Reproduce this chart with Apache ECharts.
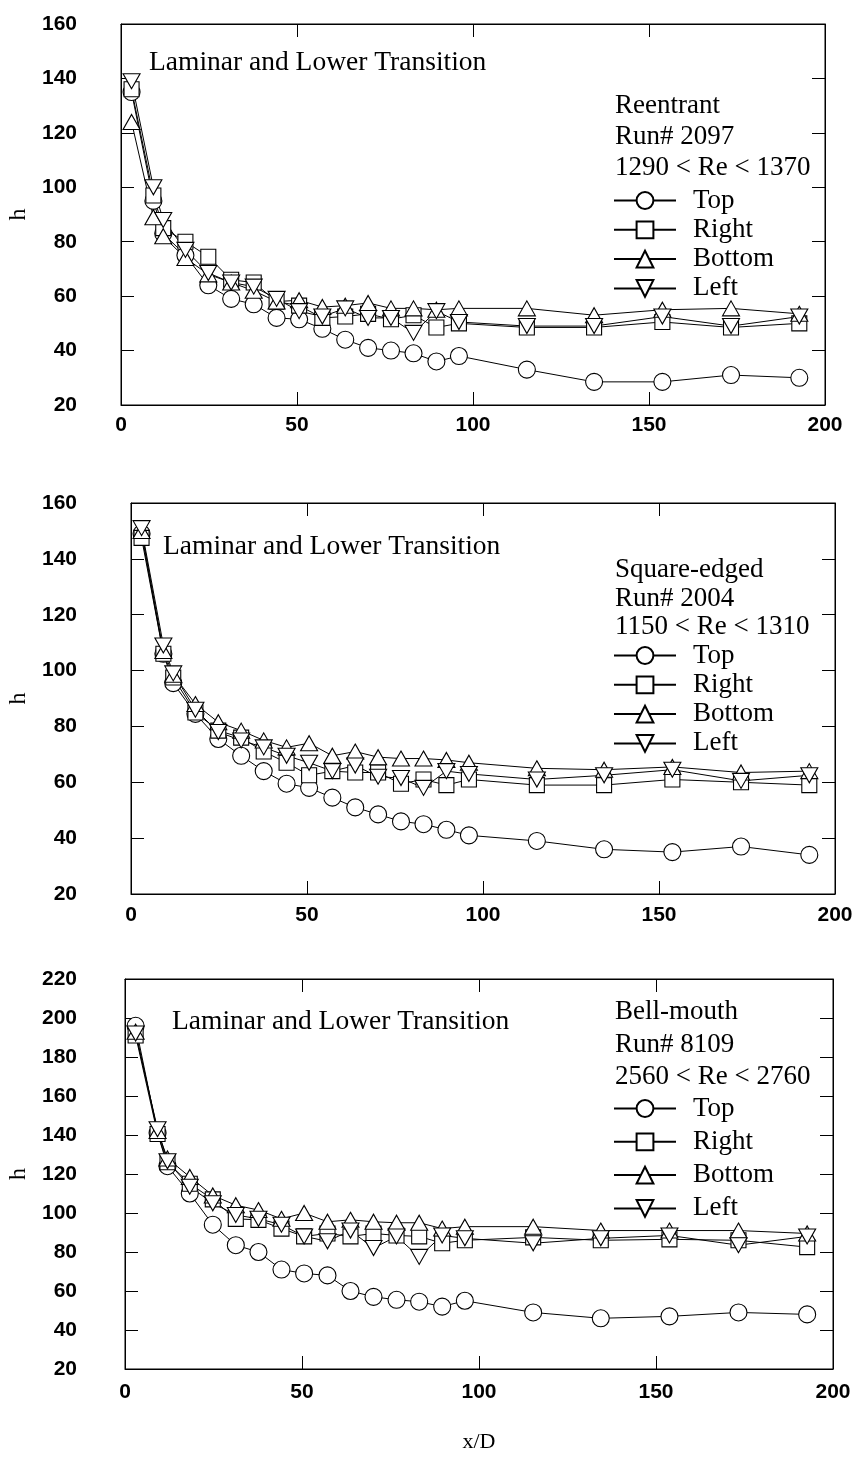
<!DOCTYPE html>
<html>
<head>
<meta charset="utf-8">
<title>Heat transfer coefficient h along the tube, three inlet configurations</title>
<script src="https://cdn.jsdelivr.net/npm/echarts@6/dist/echarts.min.js"></script>
<style>
  html, body { margin: 0; padding: 0; background: #fff; }
  #chart { width: 857px; height: 1469px; }
</style>
</head>
<body>
<div id="chart"></div>
<script>
// Axial stations x/D shared by all three runs
const xD = [3, 9.2, 12, 18.3, 24.8, 31.3, 37.7, 44.2, 50.6, 57.2, 63.7, 70.2, 76.7, 83.1, 89.6, 96, 115.3, 134.4, 153.8, 173.3, 192.7];

// Reentrant inlet, Run# 2097
const reTop    = [135, 95, 83, 75, 64, 59, 57, 52, 51.5, 48, 44, 41, 40, 39, 36, 38, 33, 28.5, 28.5, 31, 30];
const reRight  = [136, 97, 85, 80, 74.5, 66, 65, 58, 56.5, 52, 52.5, 53.5, 51.5, 53, 48.5, 50, 48.5, 48.5, 50.5, 48.5, 50];
const reBottom = [124, 89, 82, 74, 68, 65, 62, 58, 58.5, 56, 56.5, 57.5, 55.5, 55.5, 55, 55.5, 55.5, 53, 55, 55.5, 53.5];
const reLeft   = [139, 100, 88, 77, 68.5, 65, 63.5, 59, 54.5, 52.5, 55.5, 52, 52, 46.5, 54.5, 50.5, 49, 49, 52.5, 49, 52.5];

// Square-edged inlet, Run# 2004
const sqTop    = [149, 106, 95.5, 84.5, 75.5, 69.5, 64, 59.5, 58, 54.5, 51, 48.5, 46, 45, 43, 41, 39, 36, 35, 37, 34];
const sqRight  = [147.5, 106, 97.5, 85, 78.5, 76, 71, 67, 62.5, 64, 63.5, 63.5, 59.5, 61, 59, 61, 59, 59, 61, 60, 59];
const sqBottom = [150, 107, 98.5, 88, 81.5, 78.5, 75, 72.5, 74, 69.5, 71, 69, 68.5, 68.5, 68, 67, 65, 64.5, 65.5, 63.5, 64];
const sqLeft   = [151, 109, 99, 86, 78, 75, 72.5, 69.5, 67, 64, 66, 62, 61.5, 58, 64, 63, 61, 62.5, 64.5, 60.5, 62.5];

// Bell-mouth inlet, Run# 8109
const bmTop    = [196, 141, 124, 110, 94, 83.5, 80, 71, 69, 68, 60, 57, 55.5, 54.5, 52, 55, 49, 46, 47, 49, 48];
const bmRight  = [191, 140.5, 126, 115, 107, 97, 96.5, 92, 88, 89.5, 88, 89.5, 88.5, 88, 84.5, 86, 87.5, 86, 86.5, 86, 82.5];
const bmBottom = [193, 142, 128, 118.5, 109, 104, 101.5, 97, 100, 95.5, 96.5, 95.5, 95, 95, 92, 93, 93, 91, 91, 91, 89.5];
const bmLeft   = [192, 143, 126.5, 113.5, 105, 99, 97, 94, 88, 85.5, 91, 82, 88, 77.5, 88.5, 87, 84.5, 87, 88.5, 83.5, 88];

// Tick settings
const xTicks = { min: 0, max: 200, interval: 50 };
const yTicks = [
  { min: 20, max: 160, interval: 20 },
  { min: 20, max: 160, interval: 20 },
  { min: 20, max: 220, interval: 20 }
];

const sideNames = ['Top', 'Right', 'Bottom', 'Left'];
const panels = [
  { caption: 'Laminar and Lower Transition', head: ['Reentrant', 'Run# 2097', '1290 < Re < 1370'], series: [reTop, reRight, reBottom, reLeft] },
  { caption: 'Laminar and Lower Transition', head: ['Square-edged', 'Run# 2004', '1150 < Re < 1310'], series: [sqTop, sqRight, sqBottom, sqLeft] },
  { caption: 'Laminar and Lower Transition', head: ['Bell-mouth', 'Run# 8109', '2560 < Re < 2760'], series: [bmTop, bmRight, bmBottom, bmLeft] }
];

// Layout of the three stacked plots (pixels)
const grids = [
  { left: 121, right: 32, top: 24, height: 381 },
  { left: 131, right: 22, top: 503, height: 391 },
  { left: 125, right: 24, top: 979, height: 390 }
];
const xLabelMargin = [10, 11, 13];
const captionPos = [ { left: 149, top: 48 }, { left: 163, top: 532 }, { left: 172, top: 1007 } ];
const headPos = [ { top: 90, lh: 31 }, { top: 556, lh: 28.5 }, { top: 996, lh: 32.5 } ];
const legendPos = [ { top: 187, gap: 2.3 }, { top: 642, gap: 2.3 }, { top: 1095, gap: 6.3 } ];

const symbols = [
  { symbol: 'circle', symbolSize: 17, symbolRotate: 0 },
  { symbol: 'rect', symbolSize: 15, symbolRotate: 0 },
  { symbol: 'triangle', symbolSize: [17, 15], symbolRotate: 0 },
  { symbol: 'triangle', symbolSize: [17, 15], symbolRotate: 180 }
];

const black = '#000';
const sansFont = '"Liberation Sans", Arial, sans-serif';
const serifFont = '"Liberation Serif", "Times New Roman", serif';
const tickFont = { color: black, fontFamily: sansFont, fontSize: 21, fontWeight: 'bold' };

const option = {
  backgroundColor: '#fff',
  animation: false,
  grid: grids.map(g => Object.assign({
    show: true, borderColor: black, borderWidth: 1, backgroundColor: 'transparent',
    containLabel: false, outerBoundsMode: 'none'
  }, g)),
  xAxis: [],
  yAxis: [],
  title: [],
  legend: [],
  series: []
};

panels.forEach((p, k) => {
  // bottom x axis with labels
  option.xAxis.push(Object.assign({
    type: 'value', gridIndex: k, position: 'bottom',
    axisLine: { show: true, onZero: false, lineStyle: { color: black, width: 1 } },
    axisTick: { show: true, inside: true, length: 13, lineStyle: { color: black } },
    axisLabel: Object.assign({ margin: xLabelMargin[k] }, tickFont),
    splitLine: { show: false },
    name: k === 2 ? 'x/D' : '',
    nameLocation: 'middle', nameGap: 62,
    nameTextStyle: { color: black, fontFamily: serifFont, fontSize: 22 }
  }, xTicks));
  // left y axis with labels
  option.yAxis.push(Object.assign({
    type: 'value', gridIndex: k, position: 'left',
    axisLine: { show: true, onZero: false, lineStyle: { color: black, width: 1 } },
    axisTick: { show: true, inside: true, length: 13, lineStyle: { color: black } },
    axisLabel: Object.assign({ margin: grids[k].left - 77 }, tickFont),
    splitLine: { show: false },
    name: 'h', nameLocation: 'middle', nameGap: grids[k].left - 32,
    nameTextStyle: { color: black, fontFamily: serifFont, fontSize: 24 }
  }, yTicks[k]));
});
panels.forEach((p, k) => {
  // mirrored top / right axes carrying ticks only
  option.xAxis.push(Object.assign({
    type: 'value', gridIndex: k, position: 'top',
    axisLine: { show: true, onZero: false, lineStyle: { color: black } },
    axisTick: { show: true, inside: true, length: 13, lineStyle: { color: black } },
    axisLabel: { show: false }, splitLine: { show: false }
  }, xTicks));
  option.yAxis.push(Object.assign({
    type: 'value', gridIndex: k, position: 'right',
    axisLine: { show: true, onZero: false, lineStyle: { color: black } },
    axisTick: { show: true, inside: true, length: 13, lineStyle: { color: black } },
    axisLabel: { show: false }, splitLine: { show: false }
  }, yTicks[k]));

  option.title.push({
    text: p.caption, left: captionPos[k].left, top: captionPos[k].top, padding: 0,
    textStyle: { color: black, fontFamily: serifFont, fontSize: 27.5, fontWeight: 'normal', lineHeight: 30 }
  });
  option.title.push({
    text: p.head.join('\n'), left: 615, top: headPos[k].top, padding: 0,
    textStyle: { color: black, fontFamily: serifFont, fontSize: 27, fontWeight: 'normal', lineHeight: headPos[k].lh }
  });

  option.legend.push({
    data: sideNames.map(n => ({ name: 'P' + k + ' ' + n })),
    formatter: name => name.slice(3),
    orient: 'vertical', left: 613, top: legendPos[k].top, padding: 0,
    itemGap: legendPos[k].gap, itemWidth: 62, itemHeight: 21,
    iconRotate: 'inherit', selectedMode: false,
    textStyle: { color: black, fontFamily: serifFont, fontSize: 27, lineHeight: 26, padding: [0, 0, 0, 12] }
  });

  p.series.forEach((vals, s) => {
    option.series.push(Object.assign({
      name: 'P' + k + ' ' + sideNames[s],
      type: 'line', xAxisIndex: k, yAxisIndex: k,
      data: xD.map((x, i) => [x, vals[i]]),
      showAllSymbol: true,
      lineStyle: { color: black, width: 1 },
      itemStyle: { color: '#fff', borderColor: black, borderWidth: 1.1 },
      emphasis: { disabled: true }
    }, symbols[s]));
  });
});

const chart = echarts.init(document.getElementById('chart'), null, { renderer: 'canvas' });
chart.setOption(option);
</script>
</body>
</html>
